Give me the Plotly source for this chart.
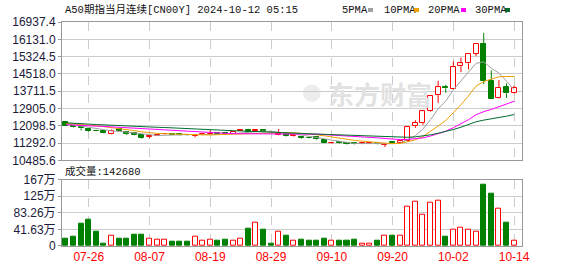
import plotly.graph_objects as go

dates = ["07-23","07-24","07-25","07-26","07-29","07-30","07-31","08-01","08-02","08-05",
         "08-06","08-07","08-08","08-09","08-12","08-13","08-14","08-15","08-16","08-19",
         "08-20","08-21","08-22","08-23","08-26","08-27","08-28","08-29","08-30","09-02",
         "09-03","09-04","09-05","09-06","09-09","09-10","09-11","09-12","09-13","09-16",
         "09-17","09-18","09-19","09-20","09-23","09-24","09-25","09-26","09-27","09-30",
         "10-01","10-02","10-03","10-04","10-07","10-08","10-09","10-10","10-11","10-14"]

opens = [12270,12090,12050,11960,11880,11860,11710,11930,11800,11760,
         11680,11590,11640,11700,11720,11700,11680,11640,11680,11700,
         11760,11760,11740,11880,11900,11860,11900,11810,11650,11710,
         11630,11590,11550,11590,11450,11290,11330,11290,11290,11250,
         11260,11300,11220,11330,11300,11380,12080,12220,12770,13530,
         13920,13815,14880,15010,15460,15920,14170,13400,13905,13620]
highs = [12290,12110,12070,11990,11900,11870,11930,11950,11810,11770,
         11700,11660,11720,11730,11740,11720,11690,11720,11720,11900,
         11800,11780,11850,11950,11960,11910,11920,11830,11950,11730,
         11680,11610,11570,11620,11460,11360,11340,11300,11300,11300,
         11280,11310,11280,11340,11400,12070,12360,12840,13530,14200,
         14010,15100,15280,15470,15920,16430,14680,14230,14080,13980]
lows = [12090,12020,11880,11830,11840,11740,11700,11860,11680,11660,
        11500,11520,11620,11680,11680,11650,11640,11560,11660,11680,
        11700,11720,11720,11860,11800,11850,11800,11770,11640,11600,
        11600,11500,11500,11450,11290,11260,11270,11230,11210,11240,
        11250,11240,11110,11270,11280,11370,12000,12140,12740,13160,
        13640,13785,14600,14730,15350,14040,13350,13370,13400,13590]
closes = [12100,12050,11980,11870,11850,11760,11850,11880,11720,11680,
          11550,11610,11690,11720,11690,11670,11660,11680,11700,11730,
          11720,11730,11830,11900,11810,11900,11810,11790,11720,11620,
          11660,11530,11520,11480,11300,11320,11290,11250,11230,11280,
          11270,11260,11240,11280,11380,12060,12230,12780,13490,13900,
          13845,14830,15010,15460,15910,14190,13350,13875,13610,13875]

ma5 = [12200,12140,12090,12030,11970,11902,11862,11842,11812,11778,
       11736,11688,11650,11650,11652,11676,11686,11684,11680,11688,
       11698,11712,11742,11782,11798,11834,11850,11842,11806,11768,
       11720,11664,11610,11562,11498,11430,11382,11328,11278,11274,
       11264,11258,11256,11266,11286,11444,11638,11946,12388,12892,
       13249,13769,14215,14609,15011,15080,14784,14557,14187,13780]
ma10 = [12210,12190,12160,12130,12100,12060,12020,11980,11930,11874,
        11819,11775,11746,11731,11715,11706,11687,11667,11665,11670,
        11687,11699,11713,11731,11743,11766,11781,11792,11794,11783,
        11777,11757,11726,11684,11633,11575,11523,11469,11420,11386,
        11347,11320,11292,11272,11280,11354,11448,11601,11827,12089,
        12347,12704,13081,13499,13952,14165,14277,14386,14398,14396]
ma20 = [12150,12140,12130,12110,12090,12070,12050,12030,12010,11990,
        11960,11940,11920,11900,11880,11860,11830,11810,11790,11772,
        11753,11737,11730,11731,11729,11736,11734,11730,11730,11727,
        11732,11728,11720,11708,11688,11671,11652,11631,11607,11585,
        11562,11539,11509,11478,11457,11465,11486,11535,11624,11738,
        11847,12012,12186,12385,12616,12759,12862,12994,13113,13242]
ma30 = [12240,12230,12210,12180,12160,12140,12120,12100,12080,12060,
        12050,12040,12030,12020,12000,11980,11960,11940,11920,11910,
        11900,11880,11870,11860,11850,11830,11810,11800,11790,11776,
        11761,11744,11728,11715,11697,11682,11664,11643,11626,11613,
        11604,11592,11577,11562,11552,11565,11584,11621,11680,11753,
        11824,11927,12033,12152,12288,12365,12416,12485,12548,12624]

volume_wan = [19,24,55,67,36,7,26,19,19,29,29,18,16,16,12,12,10,23,14,16,
              14,17,14,18,43,59,41,5,35,26,14,17,14,14,19,14,14,14,17,6,
              5,14,26,26,26,98,112,79,110,114,23,40,47,40,35,154,132,93,58,14.268]

price_ticks = [10485.6,11292.0,12098.5,12905.0,13711.5,14518.0,15324.5,16131.0,16937.4]
price_tick_text = ["10485.6","11292.0","12098.5","12905.0","13711.5","14518.0","15324.5","16131.0","16937.4"]
vol_ticks = [0,416300,832600,1248900,1665200]
vol_tick_text = ["0","41.63万","83.26万","125万","167万"]
date_tick_idx = [3,11,19,27,35,43,51,59]
title_text = "A50期指当月连续[CN00Y] 2024-10-12 05:15"
vol_title = "成交量:142680"
legend_items = [("5PMA","#a0a0a0"),("10PMA","#f0a000"),("20PMA","#ff00ff"),("30PMA","#006a2e")]

RED = "#ff0000"
GREEN = "#008000"
FONT = "Liberation Sans, Arial, Noto Sans CJK SC, sans-serif"
TFONT = "Liberation Mono, Noto Sans CJK SC, monospace"

n = len(closes)
xs = list(range(n))
up = [c >= o for o, c in zip(opens, closes)]

fig = go.Figure()

# wicks
for flag, col in ((True, RED), (False, GREEN)):
    wx, wy = [], []
    for i in xs:
        if up[i] != flag:
            continue
        top = max(opens[i], closes[i]); bot = min(opens[i], closes[i])
        wx += [i, i, None, i, i, None]
        wy += [highs[i], top, None, bot, lows[i], None]
    fig.add_trace(go.Scatter(x=wx, y=wy, mode="lines", line=dict(color=col, width=1),
                             hoverinfo="skip", showlegend=False, xaxis="x", yaxis="y"))

# bodies
for flag, col, fill in ((True, RED, "white"), (False, GREEN, GREEN)):
    bx = [i for i in xs if up[i] == flag]
    base = [min(opens[i], closes[i]) for i in bx]
    h = [max(abs(closes[i] - opens[i]), 25) for i in bx]
    fig.add_trace(go.Bar(x=bx, y=h, base=base, width=0.66,
                         marker=dict(color=fill, line=dict(color=col, width=1)),
                         hoverinfo="skip", showlegend=False, xaxis="x", yaxis="y"))

# moving averages
for arr, (_, col) in zip((ma5, ma10, ma20, ma30), legend_items):
    fig.add_trace(go.Scatter(x=xs, y=arr, mode="lines", line=dict(color=col, width=1),
                             hoverinfo="skip", showlegend=False, xaxis="x", yaxis="y"))

# volume
for flag, col, fill in ((True, RED, "white"), (False, GREEN, GREEN)):
    bx = [i for i in xs if up[i] == flag]
    vy = [volume_wan[i] * 10000 for i in bx]
    fig.add_trace(go.Bar(x=bx, y=vy, width=0.66,
                         marker=dict(color=fill, line=dict(color=col, width=1)),
                         hoverinfo="skip", showlegend=False, xaxis="x2", yaxis="y2"))

xr = [-0.52, n - 1 + 1.04]
axis_common = dict(showline=True, linecolor="#999999", linewidth=1, mirror=True,
                   zeroline=False)
fig.update_layout(
    width=578, height=276,
    margin=dict(l=56, r=56, t=22, b=21),
    paper_bgcolor="white", plot_bgcolor="white",
    barmode="overlay", bargap=0,
    font=dict(family=FONT, size=12, color="#333333"),
    xaxis=dict(domain=[0, 1], anchor="y", range=xr, tickvals=date_tick_idx,
               showticklabels=False, showgrid=True, gridcolor="#cccccc", griddash="dash",
               gridwidth=1, ticks="", **axis_common),
    yaxis=dict(domain=[0.382, 1], anchor="x", range=[price_ticks[0], price_ticks[-1]],
               tickvals=price_ticks, ticktext=price_tick_text, showgrid=True,
               gridcolor="#cccccc", ticks="outside", ticklen=3, tickcolor="#999999",
               tickfont=dict(size=12, color="#1a1a3a"), **axis_common),
    xaxis2=dict(domain=[0, 1], anchor="y2", range=xr, tickvals=date_tick_idx,
                ticktext=[dates[i] for i in date_tick_idx], showgrid=True,
                gridcolor="#cccccc", griddash="dash", ticks="",
                tickfont=dict(size=12, color="#ff0000"), **axis_common),
    yaxis2=dict(domain=[0, 0.296], anchor="x2", range=[0, vol_ticks[-1]],
                tickvals=vol_ticks, ticktext=vol_tick_text, showgrid=True,
                gridcolor="#cccccc", ticks="outside", ticklen=3, tickcolor="#999999",
                tickfont=dict(size=12, color="#1a1a3a"), **axis_common),
)

def px_x(x):
    return (x - 56) / 466

def px_y(y):
    return (276 - 21 - y) / 233

annotations = [
    dict(text=title_text, x=px_x(57), y=px_y(9), xanchor="left", yanchor="middle",
         font=dict(size=10.5, color="#111111", family=TFONT)),
    dict(text=vol_title, x=px_x(57), y=px_y(177), xanchor="left", yanchor="middle",
         font=dict(size=10.5, color="#111111", family=TFONT)),
]
legend_x = [338, 380, 425, 472]
sq_x = [366, 413, 460, 505]
for (label, col), lx, sx in zip(legend_items, legend_x, sq_x):
    annotations.append(dict(text=label, x=px_x(lx), y=px_y(9), xanchor="left",
                            yanchor="middle",
                            font=dict(size=10.5, color="#111111", family=TFONT)))
    annotations.append(dict(text="", x=px_x(sx), y=px_y(10), xanchor="left",
                            yanchor="middle", width=5, height=4, bgcolor=col,
                            borderpad=0, borderwidth=0, font=dict(size=1)))
# watermark
annotations.append(dict(text="<b>东方财富</b>", x=px_x(378), y=px_y(96),
                        xanchor="center", yanchor="middle",
                        font=dict(size=26, color="#e2e2e2", family="Noto Sans CJK SC, sans-serif")))
for a in annotations:
    a.update(xref="paper", yref="paper", showarrow=False)
fig.update_layout(annotations=annotations)
fig.add_shape(type="circle", xref="paper", yref="paper", layer="below",
              x0=px_x(300), x1=px_x(318), y0=px_y(105), y1=px_y(87),
              fillcolor="#ececec", line=dict(width=0))

fig.write_html("out.html")
